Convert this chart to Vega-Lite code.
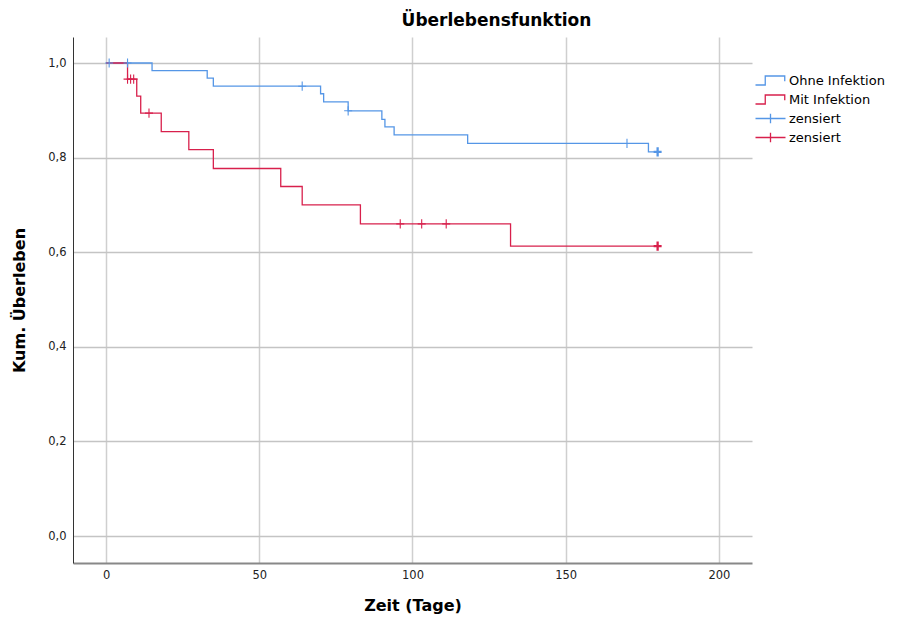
{
  "$schema": "https://vega.github.io/schema/vega-lite/v6.json",
  "width": 679,
  "height": 526,
  "autosize": {"type": "none"},
  "padding": {"left": 73, "top": 37, "right": 151, "bottom": 59},
  "background": "white",
  "config": {
    "view": {"stroke": null},
    "font": "DejaVu Sans",
    "legend": {
      "title": null,
      "orient": "none",
      "legendX": 689,
      "legendY": 35,
      "labelFont": "DejaVu Sans",
      "labelFontSize": 13,
      "labelColor": "#000000",
      "symbolSize": 225,
      "symbolStrokeWidth": 1.3,
      "symbolFillColor": "transparent",
      "rowPadding": 3,
      "labelOffset": 10
    }
  },
  "title": {
    "text": "Überlebensfunktion",
    "font": "DejaVu Sans",
    "fontSize": 17,
    "fontWeight": "bold",
    "color": "#000000",
    "anchor": "middle",
    "dx": 84,
    "offset": 7
  },
  "datasets": {
    "curves": [
      {"key": "Ohne Infektion", "zeit": 0, "surv": 1.0},
      {"key": "Ohne Infektion", "zeit": 15, "surv": 0.984},
      {"key": "Ohne Infektion", "zeit": 33, "surv": 0.968},
      {"key": "Ohne Infektion", "zeit": 35, "surv": 0.951},
      {"key": "Ohne Infektion", "zeit": 70, "surv": 0.935},
      {"key": "Ohne Infektion", "zeit": 71, "surv": 0.918},
      {"key": "Ohne Infektion", "zeit": 79, "surv": 0.899},
      {"key": "Ohne Infektion", "zeit": 90, "surv": 0.881},
      {"key": "Ohne Infektion", "zeit": 91, "surv": 0.865},
      {"key": "Ohne Infektion", "zeit": 94, "surv": 0.848},
      {"key": "Ohne Infektion", "zeit": 118, "surv": 0.830},
      {"key": "Ohne Infektion", "zeit": 177, "surv": 0.812},
      {"key": "Ohne Infektion", "zeit": 180, "surv": 0.812},
      {"key": "Mit Infektion", "zeit": 0, "surv": 1.0},
      {"key": "Mit Infektion", "zeit": 7, "surv": 0.966},
      {"key": "Mit Infektion", "zeit": 10, "surv": 0.930},
      {"key": "Mit Infektion", "zeit": 11.3, "surv": 0.894},
      {"key": "Mit Infektion", "zeit": 18, "surv": 0.855},
      {"key": "Mit Infektion", "zeit": 27, "surv": 0.817},
      {"key": "Mit Infektion", "zeit": 35, "surv": 0.777},
      {"key": "Mit Infektion", "zeit": 57, "surv": 0.739},
      {"key": "Mit Infektion", "zeit": 64, "surv": 0.700},
      {"key": "Mit Infektion", "zeit": 83, "surv": 0.660},
      {"key": "Mit Infektion", "zeit": 132, "surv": 0.613},
      {"key": "Mit Infektion", "zeit": 180, "surv": 0.613}
    ],
    "censored": [
      {"key": "zensiert (ohne)", "zeit": 1, "surv": 1.0, "n": 1},
      {"key": "zensiert (ohne)", "zeit": 7, "surv": 1.0, "n": 1},
      {"key": "zensiert (ohne)", "zeit": 64, "surv": 0.951, "n": 1},
      {"key": "zensiert (ohne)", "zeit": 79, "surv": 0.899, "n": 1},
      {"key": "zensiert (ohne)", "zeit": 170, "surv": 0.830, "n": 1},
      {"key": "zensiert (ohne)", "zeit": 180, "surv": 0.812, "n": 10},
      {"key": "zensiert (mit)", "zeit": 7, "surv": 0.966, "n": 1},
      {"key": "zensiert (mit)", "zeit": 8, "surv": 0.966, "n": 1},
      {"key": "zensiert (mit)", "zeit": 9, "surv": 0.966, "n": 1},
      {"key": "zensiert (mit)", "zeit": 14, "surv": 0.894, "n": 1},
      {"key": "zensiert (mit)", "zeit": 96, "surv": 0.660, "n": 1},
      {"key": "zensiert (mit)", "zeit": 103, "surv": 0.660, "n": 1},
      {"key": "zensiert (mit)", "zeit": 111, "surv": 0.660, "n": 1},
      {"key": "zensiert (mit)", "zeit": 180, "surv": 0.613, "n": 10}
    ]
  },
  "layer": [
    {
      "data": {"name": "curves"},
      "mark": {"type": "line", "interpolate": "step-after", "strokeWidth": 1.3, "clip": true},
      "encoding": {
        "x": {
          "field": "zeit",
          "type": "quantitative",
          "scale": {"domain": [-10.8, 210.8], "nice": false, "zero": false},
          "axis": {
            "title": "Zeit (Tage)",
            "values": [0, 50, 100, 150, 200],
            "titleFont": "DejaVu Sans",
            "titleFontSize": 16,
            "titleFontWeight": "bold",
            "titleColor": "#000000",
            "titlePadding": 17,
            "labelFont": "DejaVu Sans",
            "labelFontSize": 11.5,
            "labelColor": "#222222",
            "labelPadding": 6,
            "ticks": false,
            "domainColor": "#888888",
            "domainWidth": 2,
            "grid": true,
            "gridColor": "#cfcfcf",
            "gridWidth": 1.5
          }
        },
        "y": {
          "field": "surv",
          "type": "quantitative",
          "scale": {"domain": [-0.057, 1.055], "nice": false, "zero": false},
          "axis": {
            "title": "Kum. Überleben",
            "values": [0, 0.2, 0.4, 0.6, 0.8, 1.0],
            "labelExpr": "replace(format(datum.value, '.1f'), '.', ',')",
            "titleFont": "DejaVu Sans",
            "titleFontSize": 16,
            "titleFontWeight": "bold",
            "titleColor": "#000000",
            "titlePadding": 20,
            "labelFont": "DejaVu Sans",
            "labelFontSize": 11.5,
            "labelColor": "#222222",
            "labelPadding": 7,
            "ticks": false,
            "domainColor": "#333333",
            "domainWidth": 1,
            "grid": true,
            "gridColor": "#c4c4c4",
            "gridWidth": 1.5
          }
        },
        "color": {
          "field": "key",
          "type": "nominal",
          "scale": {
            "domain": ["Ohne Infektion", "Mit Infektion", "zensiert (ohne)", "zensiert (mit)"],
            "range": ["#5596E6", "#D8204C", "#5596E6", "#D8204C"]
          },
          "legend": {
            "labelExpr": "indexof(datum.label, 'zensiert') == 0 ? 'zensiert' : datum.label",
            "encode": {
              "symbols": {
                "update": {
                  "shape": {"signal": "indexof(datum.value, 'zensiert') == 0 ? 'M-2,0 L2,0 M0,-0.62 L0,0.62' : 'M-2,0.6 L-0.7,0.6 L-0.7,-0.6 L1.9,-0.6 L1.9,0.1'"},
                  "size": {"value": 225},
                  "strokeWidth": {"value": 1.3},
                  "fill": {"value": "transparent"},
                  "opacity": {"value": 1}
                }
              }
            }
          }
        }
      }
    },
    {
      "data": {"name": "censored"},
      "mark": {"type": "point", "filled": false, "clip": true, "shape": "M-1,0 L1,0 M0,-1.15 L0,1.15", "size": 64, "opacity": 1},
      "encoding": {
        "x": {"field": "zeit", "type": "quantitative"},
        "y": {"field": "surv", "type": "quantitative"},
        "color": {
          "field": "key",
          "type": "nominal",
          "legend": {
            "labelExpr": "indexof(datum.label, 'zensiert') == 0 ? 'zensiert' : datum.label",
            "encode": {
              "symbols": {
                "update": {
                  "shape": {"signal": "indexof(datum.value, 'zensiert') == 0 ? 'M-2,0 L2,0 M0,-0.62 L0,0.62' : 'M-2,0.6 L-0.7,0.6 L-0.7,-0.6 L1.9,-0.6 L1.9,0.1'"},
                  "size": {"value": 225},
                  "strokeWidth": {"value": 1.3},
                  "fill": {"value": "transparent"},
                  "opacity": {"value": 1}
                }
              }
            }
          }
        },
        "strokeWidth": {
          "field": "n",
          "type": "quantitative",
          "scale": {"domain": [1, 10], "range": [1.1, 2.3]},
          "legend": null
        }
      }
    }
  ]
}
